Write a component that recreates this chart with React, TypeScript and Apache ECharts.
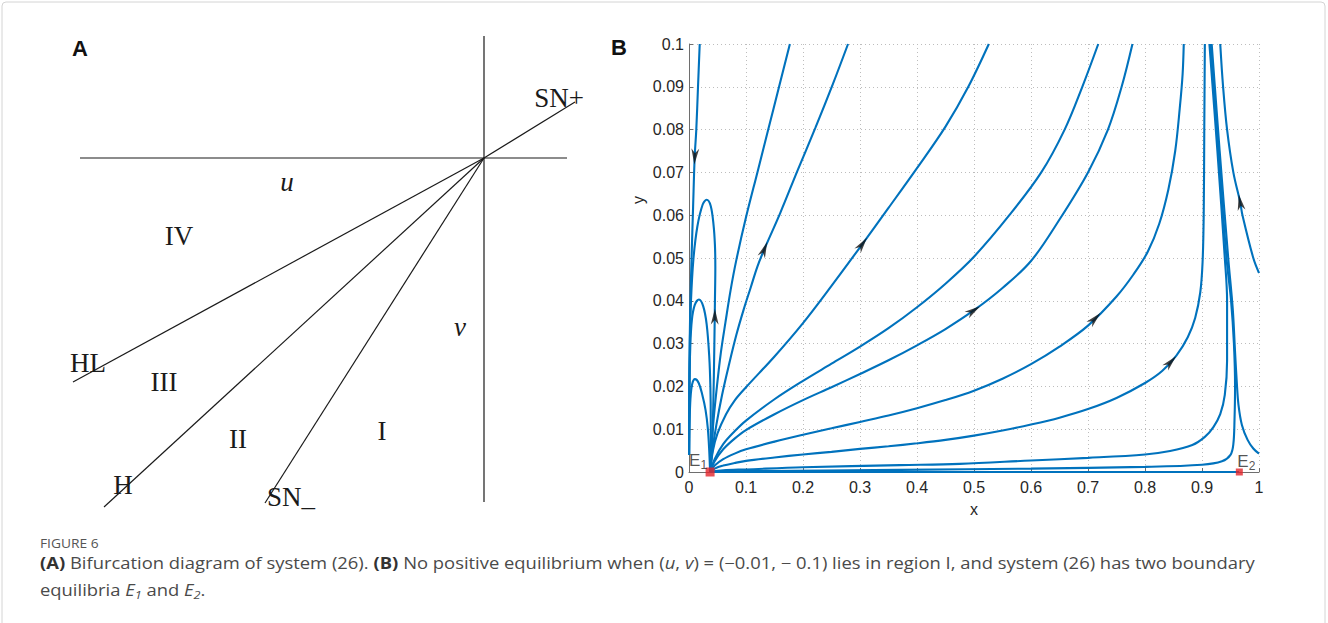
import React, { useEffect, useRef } from "react";
import * as echarts from "echarts";

// ---------- Panel A: bifurcation diagram (u, v plane, origin at 0,0) ----------
const uAxisLine = [[-4.04, 0], [0.83, 0]];
const vAxisLine = [[0, 1.22], [0, -3.44]];
const lineSNplus = [[0, 0], [0.91, 0.56]];
const lineHL = [[-4.11, -2.24], [0, 0]];
const lineH = [[-3.8, -3.49], [0, 0]];
const lineSNminus = [[-2.19, -3.45], [0, 0]];

// ---------- Panel B: phase portrait trajectories (x, y), listed in flow direction ----------
const curveTop = [[0.0188, 0.1], [0.0158, 0.09], [0.0128, 0.08], [0.01, 0.0737], [0.0072, 0.062], [0.0045, 0.05], [0.0025, 0.04], [0.0012, 0.03], [0.0005, 0.02], [0.0002, 0.01], [0.0001, 0.004]];
const arch1 = [[0.037, 0], [0.0355, 0.005], [0.033, 0.0102], [0.029, 0.0145], [0.0234, 0.018], [0.017, 0.0208], [0.0105, 0.0217], [0.0055, 0.0205], [0.0025, 0.017], [0.001, 0.011], [0.0003, 0.004]];
const arch2 = [[0.037, 0], [0.038, 0.006], [0.0382, 0.012], [0.0375, 0.02], [0.0355, 0.027], [0.031, 0.0345], [0.025, 0.0387], [0.0175, 0.0403], [0.01, 0.039], [0.005, 0.0355], [0.0022, 0.029], [0.0008, 0.02], [0.0002, 0.01], [0.0001, 0.004]];
const arch3 = [[0.037, 0], [0.04, 0.005], [0.0425, 0.015], [0.0445, 0.03], [0.0455, 0.04], [0.0462, 0.048], [0.0455, 0.053], [0.043, 0.0578], [0.038, 0.0622], [0.031, 0.0636], [0.024, 0.0625], [0.0146, 0.0573], [0.0076, 0.0495], [0.0035, 0.04], [0.0015, 0.03], [0.0005, 0.018], [0.0001, 0.004]];
const fan2 = [[0.037, 0], [0.039, 0.005], [0.043, 0.012], [0.049, 0.02], [0.056, 0.028], [0.064, 0.035], [0.073, 0.0425], [0.083, 0.0495], [0.1, 0.0595], [0.12, 0.07], [0.139, 0.08], [0.158, 0.09], [0.177, 0.1]];
const fan3 = [[0.037, 0], [0.041, 0.005], [0.048, 0.011], [0.058, 0.018], [0.07, 0.025], [0.083, 0.032], [0.096, 0.038], [0.108, 0.043], [0.12, 0.048], [0.132, 0.052], [0.16, 0.0605], [0.19, 0.0703], [0.222, 0.0805], [0.252, 0.0905], [0.279, 0.1]];
const fan4 = [[0.037, 0], [0.042, 0.005], [0.05, 0.009], [0.065, 0.0135], [0.08, 0.0167], [0.1, 0.0198], [0.15, 0.027], [0.2, 0.0348], [0.25, 0.0435], [0.3, 0.0525], [0.35, 0.0617], [0.4, 0.071], [0.45, 0.0807], [0.49, 0.09], [0.526, 0.1]];
const fan5 = [[0.037, 0], [0.045, 0.003], [0.06, 0.0065], [0.08, 0.0095], [0.1, 0.012], [0.15, 0.017], [0.2, 0.0213], [0.25, 0.0253], [0.3, 0.0293], [0.35, 0.0336], [0.4, 0.0385], [0.45, 0.044], [0.5, 0.0503], [0.562, 0.06], [0.618, 0.07], [0.659, 0.08], [0.69, 0.09], [0.718, 0.1]];
const fan6 = [[0.037, 0], [0.045, 0.0025], [0.06, 0.0053], [0.08, 0.0078], [0.1, 0.0098], [0.15, 0.0135], [0.2, 0.0168], [0.25, 0.0198], [0.3, 0.0229], [0.35, 0.0261], [0.4, 0.0296], [0.45, 0.0334], [0.5, 0.0378], [0.55, 0.043], [0.6, 0.0493], [0.65, 0.059], [0.7, 0.07], [0.735, 0.08], [0.759, 0.09], [0.778, 0.1]];
const fan7 = [[0.037, 0], [0.045, 0.0015], [0.06, 0.003], [0.08, 0.0043], [0.1, 0.0053], [0.15, 0.0071], [0.2, 0.0087], [0.25, 0.0102], [0.3, 0.0117], [0.35, 0.0132], [0.4, 0.0149], [0.45, 0.0168], [0.5, 0.019], [0.55, 0.0218], [0.6, 0.0252], [0.65, 0.0293], [0.7, 0.0342], [0.75, 0.041], [0.78, 0.0462], [0.805, 0.0515], [0.825, 0.058], [0.841, 0.066], [0.853, 0.075], [0.861, 0.085], [0.866, 0.093], [0.868, 0.1]];
const fan8 = [[0.037, 0], [0.045, 0.0008], [0.06, 0.0015], [0.08, 0.0021], [0.1, 0.0026], [0.15, 0.0034], [0.2, 0.0041], [0.25, 0.0047], [0.3, 0.0054], [0.35, 0.006], [0.4, 0.0067], [0.45, 0.0075], [0.5, 0.0085], [0.55, 0.0097], [0.6, 0.0111], [0.65, 0.0127], [0.7, 0.0147], [0.75, 0.0173], [0.8, 0.0208], [0.83, 0.0236], [0.855, 0.0272], [0.875, 0.0315], [0.888, 0.036], [0.897, 0.042], [0.901, 0.049], [0.903, 0.06], [0.904, 0.08], [0.905, 0.1]];
const fan9 = [[0.037, 0], [0.06, 0.0004], [0.1, 0.0006], [0.2, 0.0011], [0.37, 0.0016], [0.475, 0.0019], [0.6, 0.0027], [0.7, 0.0033], [0.8, 0.0041], [0.844, 0.0049], [0.883, 0.0063], [0.905, 0.0082], [0.92, 0.0105], [0.932, 0.0135], [0.94, 0.018], [0.944, 0.026], [0.944, 0.04], [0.94, 0.05], [0.927, 0.075], [0.913, 0.1]];
const fan10 = [[0.037, 0], [0.1, 0.0002], [0.37, 0.0005], [0.6, 0.0008], [0.8, 0.0012], [0.9, 0.0017], [0.935, 0.0025], [0.95, 0.004], [0.955, 0.0065], [0.957, 0.012], [0.958, 0.02], [0.956, 0.03], [0.951, 0.04], [0.943, 0.05], [0.929, 0.075], [0.915, 0.1]];
const rightIn = [[1.0, 0.0043], [0.99, 0.0055], [0.98, 0.0075], [0.97, 0.011], [0.964, 0.0157], [0.961, 0.021], [0.958, 0.028], [0.954, 0.038], [0.946, 0.05], [0.931, 0.075], [0.917, 0.1]];
const rightTop = [[1.0, 0.0465], [0.99, 0.05], [0.971, 0.06], [0.967, 0.063], [0.955, 0.07], [0.944, 0.08], [0.937, 0.09], [0.932, 0.1]];
const xAxisOrbit = [[0.037, 0], [0.965, 0]];

const curves = [curveTop, arch1, arch2, arch3, fan2, fan3, fan4, fan5, fan6, fan7, fan8, fan9, fan10, rightIn, rightTop, xAxisOrbit];

// arrows: [curve index, x, y]
const arrows = [
  [0, 0.0102, 0.0737],
  [3, 0.0453, 0.0363],
  [5, 0.132, 0.052],
  [6, 0.304, 0.0532],
  [8, 0.499, 0.0377],
  [9, 0.712, 0.0358],
  [10, 0.845, 0.0257],
  [14, 0.967, 0.063],
];

// equilibria
const equilibria = [
  { name: "1", x: 0.037, y: 0 },
  { name: "2", x: 0.9655, y: 0 },
];

// ---------- layout constants ----------
const GB = { left: 689, top: 44, width: 570, height: 428 };
const XB = [0, 1];
const YB = [0, 0.1];

function arrowRotate(curve: number[][], x: number, y: number) {
  const sx = GB.width / (XB[1] - XB[0]);
  const sy = GB.height / (YB[1] - YB[0]);
  let best = 0;
  let bd = Infinity;
  for (let i = 0; i < curve.length - 1; i++) {
    const mx = (curve[i][0] + curve[i + 1][0]) / 2;
    const my = (curve[i][1] + curve[i + 1][1]) / 2;
    const d = ((mx - x) * sx) ** 2 + ((my - y) * sy) ** 2;
    if (d < bd) {
      bd = d;
      best = i;
    }
  }
  const dx = (curve[best + 1][0] - curve[best][0]) * sx;
  const dy = (curve[best + 1][1] - curve[best][1]) * sy;
  return (Math.atan2(dy, dx) * 180) / Math.PI - 90;
}

const SERIF = "'Liberation Serif', 'Times New Roman', serif";
const SANS = "'Liberation Sans', Arial, Helvetica, sans-serif";
const CAP = "'Open Sans', 'Noto Sans', sans-serif";
const BLUE = "#0072BD";
const INK = "#1a1a1a";
const CAP_SCALE = 1.15;

function aLine(data: number[][]) {
  return {
    type: "line",
    xAxisIndex: 0,
    yAxisIndex: 0,
    data,
    showSymbol: false,
    symbol: "none",
    silent: true,
    lineStyle: { color: INK, width: 1.2 },
  };
}

function aText(text: string, x: number, y: number, italic = false) {
  return {
    type: "text",
    x,
    y,
    style: {
      text,
      fontFamily: SERIF,
      fontSize: 27,
      fontStyle: italic ? "italic" : "normal",
      fill: INK,
      align: "center",
      verticalAlign: "middle",
    },
  };
}

const capBase = { fontFamily: CAP, fontSize: 16, fill: "#4a4a4a" };
const capRich = {
  n: { ...capBase },
  b: { ...capBase, fontWeight: "bold", fill: "#333" },
  i: { ...capBase, fontStyle: "italic" },
  s: { ...capBase, fontSize: 11, fontStyle: "italic", padding: [9, 0, 0, 0] },
};

export default function App() {
  const ref = useRef<HTMLDivElement>(null);
  useEffect(() => {
    const chart = echarts.init(ref.current!, null, { renderer: "svg" });
    const option: any = {
      animation: false,
      backgroundColor: "#ffffff",
      grid: [
        { left: 64, top: 18, width: 540, height: 500 },
        { left: GB.left, top: GB.top, width: GB.width, height: GB.height },
      ],
      xAxis: [
        { type: "value", gridIndex: 0, min: -4.2, max: 1.2, show: false },
        {
          type: "value",
          gridIndex: 1,
          min: XB[0],
          max: XB[1],
          interval: 0.1,
          name: "x",
          nameLocation: "middle",
          nameGap: 29,
          nameTextStyle: { fontFamily: SANS, fontSize: 16, color: "#262626" },
          axisLine: { show: true, onZero: false, lineStyle: { color: "#6e6e6e", width: 1 } },
          axisTick: { show: true, inside: true, length: 4, lineStyle: { color: "#6e6e6e" } },
          axisLabel: { fontFamily: SANS, fontSize: 16, color: "#262626", margin: 7 },
          splitLine: { show: true, lineStyle: { type: [1, 3], color: "#bdbdbd", width: 1 } },
        },
      ],
      yAxis: [
        { type: "value", gridIndex: 0, min: -3.6, max: 1.4, show: false },
        {
          type: "value",
          gridIndex: 1,
          min: YB[0],
          max: YB[1],
          interval: 0.01,
          axisLine: { show: true, onZero: false, lineStyle: { color: "#6e6e6e", width: 1 } },
          axisTick: { show: true, inside: true, length: 4, lineStyle: { color: "#6e6e6e" } },
          axisLabel: { fontFamily: SANS, fontSize: 16, color: "#262626", margin: 5 },
          splitLine: { show: true, lineStyle: { type: [1, 3], color: "#bdbdbd", width: 1 } },
        },
      ],
      series: [
        aLine(uAxisLine),
        aLine(vAxisLine),
        aLine(lineSNplus),
        aLine(lineHL),
        aLine(lineH),
        aLine(lineSNminus),
        ...curves.map((c) => ({
          type: "line",
          xAxisIndex: 1,
          yAxisIndex: 1,
          data: c,
          showSymbol: false,
          symbol: "none",
          smooth: 0.35,
          silent: true,
          clip: true,
          lineStyle: { color: BLUE, width: 2.1 },
          z: 3,
        })),
        {
          type: "scatter",
          xAxisIndex: 1,
          yAxisIndex: 1,
          symbol: "path://M5,0 L10,14 L5,10 L0,14 Z",
          symbolSize: [11, 16],
          symbolKeepAspect: true,
          silent: true,
          itemStyle: { color: "#111" },
          z: 5,
          data: arrows.map((a) => ({
            value: [a[1], a[2]],
            symbolRotate: arrowRotate(curves[a[0]], a[1], a[2]),
          })),
        },
        {
          type: "scatter",
          xAxisIndex: 1,
          yAxisIndex: 1,
          symbol: "rect",
          silent: true,
          clip: false,
          itemStyle: { color: "#e3242b" },
          z: 6,
          data: equilibria.map((e, i) => ({
            value: [e.x, e.y],
            symbolSize: i === 0 ? 9 : 7,
            label: {
              show: true,
              position: "top",
              distance: 0,
              offset: i === 0 ? [-12, 3] : [7, 3],
              formatter: "{e|E}{s|" + e.name + "}",
              rich: {
                e: { fontFamily: SANS, fontSize: 17, color: "#262626" },
                s: { fontFamily: SANS, fontSize: 12, color: "#262626", padding: [9, 0, 0, 0] },
              },
            },
          })),
        },
      ],
      graphic: [
        {
          type: "rect",
          shape: { x: 2, y: 2, width: 1323, height: 660, r: 4 },
          style: { fill: "none", stroke: "#d4d4d4", lineWidth: 1 },
          silent: true,
        },
        {
          type: "text",
          x: 80,
          y: 48,
          style: { text: "A", fontFamily: SANS, fontWeight: "bold", fontSize: 22, fill: "#111", align: "center", verticalAlign: "middle" },
        },
        {
          type: "text",
          x: 619,
          y: 47,
          style: { text: "B", fontFamily: SANS, fontWeight: "bold", fontSize: 22, fill: "#111", align: "center", verticalAlign: "middle" },
        },
        aText("SN+", 559, 98),
        aText("u", 287, 182, true),
        aText("IV", 179, 236),
        aText("v", 460, 327, true),
        aText("HL", 88, 363),
        aText("III", 164, 382),
        aText("II", 238, 439),
        aText("I", 382, 431),
        aText("H", 123, 485),
        aText("SN_", 291, 497),
        {
          type: "text",
          x: 638,
          y: 200,
          rotation: Math.PI / 2,
          style: { text: "y", fontFamily: SANS, fontSize: 16, fill: "#262626", align: "center", verticalAlign: "middle" },
        },
        {
          type: "text",
          x: 40,
          y: 543,
          scaleX: CAP_SCALE,
          style: { text: "FIGURE 6", fontFamily: CAP, fontSize: 12, fill: "#555", verticalAlign: "middle" },
        },
        {
          type: "text",
          x: 40,
          y: 563,
          scaleX: CAP_SCALE,
          style: {
            text: "{b|(A)}{n| Bifurcation diagram of system (26). }{b|(B)}{n| No positive equilibrium when (}{i|u}{n|, }{i|v}{n|) = (−0.01, − 0.1) lies in region I, and system (26) has two boundary}",
            ...capBase,
            verticalAlign: "middle",
            rich: capRich,
          },
        },
        {
          type: "text",
          x: 40,
          y: 590,
          scaleX: CAP_SCALE,
          style: {
            text: "{n|equilibria }{i|E}{s|1}{n| and }{i|E}{s|2}{n|.}",
            ...capBase,
            verticalAlign: "middle",
            rich: capRich,
          },
        },
      ],
    };
    chart.setOption(option);
    return () => chart.dispose();
  }, []);
  return (
    <div
      ref={ref}
      style={{ position: "absolute", left: 0, top: 0, width: 1328, height: 623, background: "#fff" }}
    />
  );
}
